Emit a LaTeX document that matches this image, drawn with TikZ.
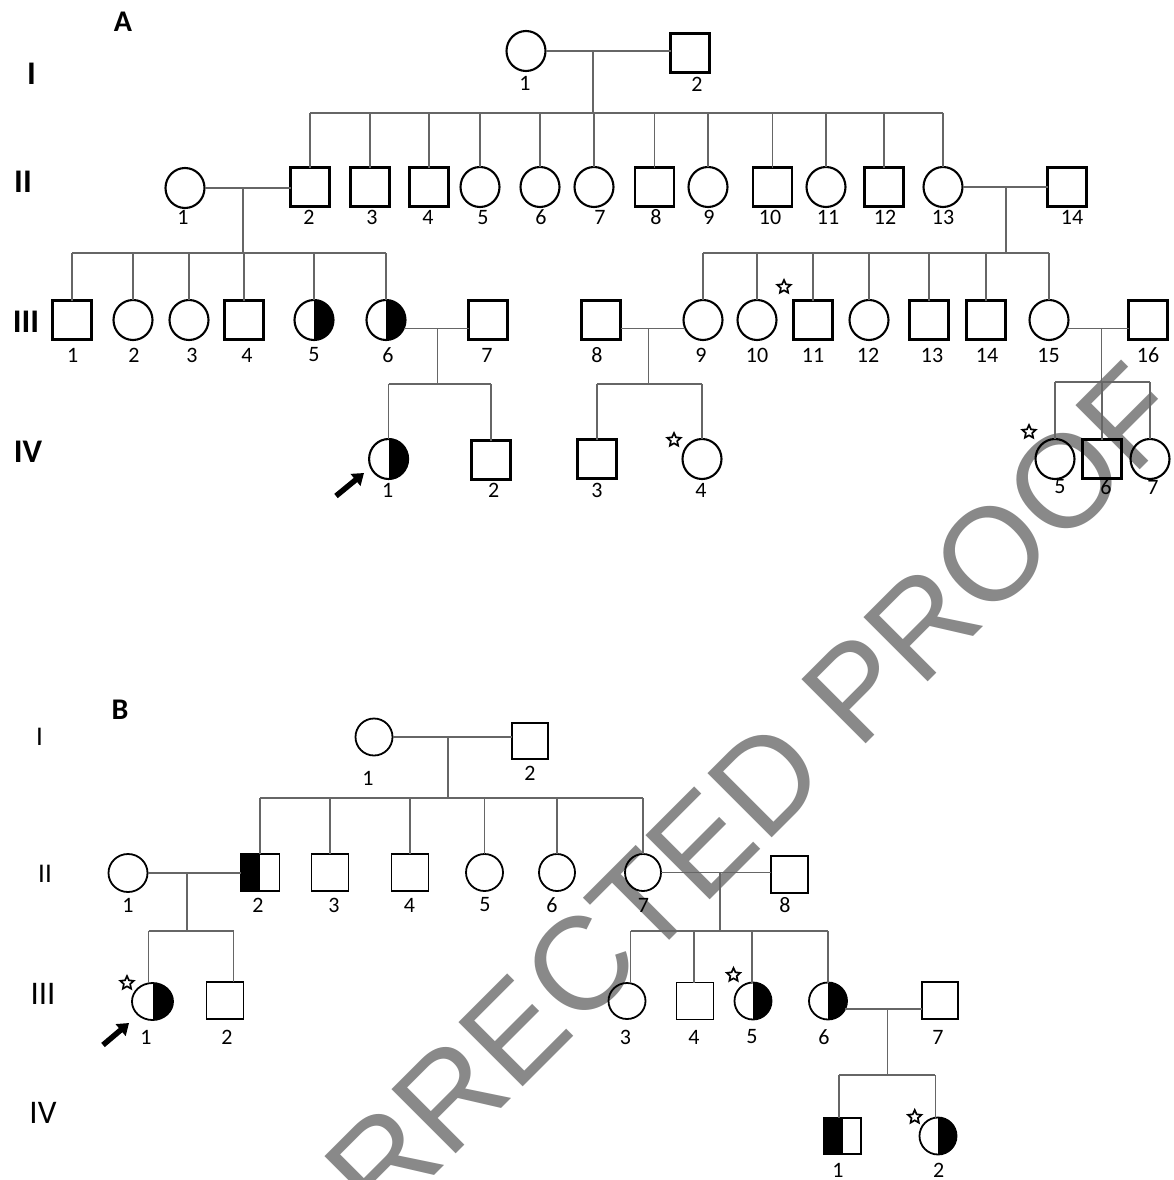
\documentclass[tikz,border=0pt]{standalone}
\usepackage{fontspec}
\setmainfont{Carlito}
\newfontfamily\wmfont{Liberation Sans}
\usetikzlibrary{shapes.geometric,arrows.meta,calc}
\definecolor{wmgray}{HTML}{898989}
\definecolor{lngray}{HTML}{666666}
\tikzset{
  fem/.style={ellipse, draw=black, line width=2.1pt, minimum width=39pt, minimum height=40pt, inner sep=0pt, outer sep=0pt},
  mal/.style={rectangle, draw=black, line width=2.1pt, minimum width=39pt, minimum height=39pt, inner sep=0pt, outer sep=0pt},
  fB/.style={fem, line width=1.8pt, minimum width=37pt, minimum height=37pt},
  mB/.style={mal, line width=1.8pt, minimum width=37pt, minimum height=37pt},
  halfR/.style={path picture={\fill[black] (path picture bounding box.south) rectangle (path picture bounding box.north east);}},
  halfL/.style={path picture={\fill[black] (path picture bounding box.south west) rectangle (path picture bounding box.north);}},
  con/.style={draw=lngray, line width=1.3pt},
  num/.style={font=\fontsize{22}{22}\selectfont, inner sep=0pt},
  genA/.style={font=\bfseries\fontsize{33}{33}\selectfont, inner sep=0pt},
  genB/.style={font=\fontsize{27}{27}\selectfont, inner sep=0pt},
  genBb/.style={font=\fontsize{33}{33}\selectfont, inner sep=0pt},
  panel/.style={font=\bfseries\fontsize{30}{30}\selectfont, inner sep=0pt},
  pstar/.style={star, star points=5, star point ratio=2.1, draw=black, line width=1.7pt, minimum size=14pt, inner sep=0pt},
  parrow/.style={draw=black, line width=5.5pt, -{Triangle[width=15pt,length=11pt]}},
  wmark/.style={font=\wmfont\fontsize{132}{132}\selectfont, text=wmgray, rotate=45, anchor=base west, inner sep=0pt}
}
\begin{document}
\begin{tikzpicture}[x=1pt,y=-1pt]
\useasboundingbox (0,0) rectangle (1173,1180);
\fill[white] (0,0) rectangle (1173,1180);

% watermark
\node[wmark] (wm) at (241,1369) {CORRECTED PROOF};

% ================= Panel A =================
\node[panel] (pA) at (123,22) {A};
\node[genA] (gA1) at (31.5,74) {I};
\node[genA] (gA2) at (23,182) {II};
\node[genA] (gA3) at (26,322) {III};
\node[genA] (gA4) at (28,452) {IV};

% generation I
\node[fem] (A1-1) at (526,51) {};
\node[mal] (A1-2) at (690,53) {};
\node[num] (lA1-1) at (525,83) {1};
\node[num] (lA1-2) at (697,84) {2};

% generation II
\node[fem] (A2-1) at (185,188) {};
\node[mal] (A2-2) at (310,187) {};
\node[mal] (A2-3) at (370,187) {};
\node[mal] (A2-4) at (429,187) {};
\node[fem] (A2-5) at (480,187) {};
\node[fem] (A2-6) at (540,187) {};
\node[fem] (A2-7) at (594,187) {};
\node[mal] (A2-8) at (654.5,187) {};
\node[fem] (A2-9) at (708,187) {};
\node[mal] (A2-10) at (772.5,187) {};
\node[fem] (A2-11) at (826,187) {};
\node[mal] (A2-12) at (884,187) {};
\node[fem] (A2-13) at (943,187) {};
\node[mal] (A2-14) at (1067,187) {};
\foreach \k/\x in {1/183,2/309,3/372,4/428,5/483,6/541,7/600,8/656,9/709,10/770,11/828,12/885,13/943,14/1072}
  \node[num] (lA2-\k) at (\x,217.5) {\k};

% generation III
\node[mal] (A3-1) at (72,320) {};
\node[fem] (A3-2) at (133,320) {};
\node[fem] (A3-3) at (189,320) {};
\node[mal] (A3-4) at (244,320) {};
\node[fem,halfR] (A3-5) at (314,320) {};
\node[fem,halfR] (A3-6) at (386,320) {};
\node[mal] (A3-7) at (488,320) {};
\node[mal] (A3-8) at (601,320) {};
\node[fem] (A3-9) at (703,320) {};
\node[fem] (A3-10) at (757,320) {};
\node[mal] (A3-11) at (813,320) {};
\node[fem] (A3-12) at (869,320) {};
\node[mal] (A3-13) at (929,320) {};
\node[mal] (A3-14) at (986,320) {};
\node[fem] (A3-15) at (1049,320) {};
\node[mal] (A3-16) at (1148,320) {};
\foreach \k/\x in {1/72.7,2/134,3/192,4/247,5/314,6/388,7/487,8/597,9/701,10/757,11/813,12/868,13/932,14/987,15/1048.6,16/1148}
  \node[num] (lA3-\k) at (\x,355) {\k};
\node[pstar] (sA3-11) at (784,287) {};

% generation IV
\node[fem,halfR] (A4-1) at (388.6,459) {};
\node[mal] (A4-2) at (491,460) {};
\node[mal] (A4-3) at (597,459) {};
\node[fem] (A4-4) at (702,459) {};
\node[fem] (A4-5) at (1055,459) {};
\node[mal] (A4-6) at (1102,459) {};
\node[fem] (A4-7) at (1150,459) {};
\node[num] (lA4-1) at (387.7,490) {1};
\node[num] (lA4-2) at (493.7,490) {2};
\node[num] (lA4-3) at (597,490) {3};
\node[num] (lA4-4) at (701,490) {4};
\node[num] (lA4-5) at (1060,487) {5};
\node[num] (lA4-6) at (1106,487) {6};
\node[num] (lA4-7) at (1153,487) {7};
\node[pstar] (sA4-4) at (674,440) {};
\node[pstar] (sA4-5) at (1029,432) {};

% proband arrow A
\coordinate (arA0) at (336,496);
\coordinate (arA1) at (364,473);
\draw[parrow] (arA0) -- (arA1);

% connectors A
\coordinate (A1m) at (593,51);
\coordinate (A1s) at (593,113);
\draw[con] (A1-1.east) -- (A1-1.east -| A1-2.west);
\draw[con] (A1m) -- (A1s);
\draw[con] (A1s -| A2-2.north) -- (A1s -| A2-13.north);
\foreach \k in {2,...,13} \draw[con] (A1s -| A2-\k.north) -- (A2-\k.north);

\coordinate (A2m1) at (243,188);
\coordinate (A2s1) at (243,253);
\draw[con] (A2-1.east) -- (A2-1.east -| A2-2.west);
\draw[con] (A2m1) -- (A2s1);
\draw[con] (A2s1 -| A3-1.north) -- (A2s1 -| A3-6.north);
\foreach \k in {1,...,6} \draw[con] (A2s1 -| A3-\k.north) -- (A3-\k.north);

\coordinate (A2m13) at (1006,187);
\coordinate (A2s13) at (1006,253);
\draw[con] (A2-13.east) -- (A2-13.east -| A2-14.west);
\draw[con] (A2m13) -- (A2s13);
\draw[con] (A2s13 -| A3-9.north) -- (A2s13 -| A3-15.north);
\foreach \k in {9,...,15} \draw[con] (A2s13 -| A3-\k.north) -- (A3-\k.north);

\coordinate (A3m6) at (437.5,328.5);
\coordinate (A3s6) at (437.5,384);
\draw[con] (A3-6.-25) -- (A3-6.-25 -| A3-7.west);
\draw[con] (A3m6) -- (A3s6);
\draw[con] (A3s6 -| A4-1.north) -- (A3s6 -| A4-2.north);
\foreach \k in {1,2} \draw[con] (A3s6 -| A4-\k.north) -- (A4-\k.north);

\coordinate (A3m8) at (648.5,328.5);
\coordinate (A3s8) at (648.5,384);
\draw[con] (A3-9.205 -| A3-8.east) -- (A3-9.205);
\draw[con] (A3m8) -- (A3s8);
\draw[con] (A3s8 -| A4-3.north) -- (A3s8 -| A4-4.north);
\foreach \k in {3,4} \draw[con] (A3s8 -| A4-\k.north) -- (A4-\k.north);

\coordinate (A3m15) at (1101.5,328.5);
\coordinate (A3s15) at (1101.5,382);
\draw[con] (A3-15.-25) -- (A3-15.-25 -| A3-16.west);
\draw[con] (A3m15) -- (A3s15);
\draw[con] (A3s15 -| A4-5.north) -- (A3s15 -| A4-7.north);
\foreach \k in {5,6,7} \draw[con] (A3s15 -| A4-\k.north) -- (A4-\k.north);

% ================= Panel B =================
\node[panel] (pB) at (120,710) {B};
\node[genB] (gB1) at (39.5,737) {I};
\node[genB] (gB2) at (45,873.5) {II};
\node[genBb] (gB3) at (43,994) {III};
\node[genBb] (gB4) at (43,1113) {IV};

% generation I
\node[fB] (B1-1) at (374,737) {};
\node[mB, minimum width=36pt, minimum height=36pt] (B1-2) at (530,741) {};
\node[num] (lB1-1) at (368,778) {1};
\node[num] (lB1-2) at (530,773) {2};

% generation II
\node[fB, minimum width=39pt, minimum height=38pt] (B2-1) at (128,873) {};
\node[mB,halfL, minimum width=39pt] (B2-2) at (260,872.5) {};
\node[mB] (B2-3) at (330,872.5) {};
\node[mB] (B2-4) at (410,872.5) {};
\node[fB] (B2-5) at (484.5,872.5) {};
\node[fB, minimum width=36pt] (B2-6) at (557,872.5) {};
\node[fB, minimum width=36pt] (B2-7) at (643,872.5) {};
\node[mB] (B2-8) at (789.5,874.5) {};
\foreach \k/\x in {1/128,2/258,3/334,4/409.5,5/485,6/552,7/643.4,8/785}
  \node[num] (lB2-\k) at (\x,905) {\k};

% generation III
\node[fB,halfR, minimum width=41pt] (B3-1) at (152.5,1001.5) {};
\node[mB] (B3-2) at (225,1000.5) {};
\node[fB, minimum width=37pt, minimum height=36pt] (B3-3) at (627,1001) {};
\node[mB] (B3-4) at (695,1001) {};
\node[fB,halfR] (B3-5) at (753,1001) {};
\node[fB,halfR, minimum width=38pt] (B3-6) at (828,1001) {};
\node[mB, minimum width=36pt] (B3-7) at (940,1000.5) {};
\foreach \k/\x in {1/146,2/227,3/625.5,4/694,5/752,6/824,7/938}
  \node[num] (lB3-\k) at (\x,1037) {\k};
\node[pstar] (sB3-1) at (127,983) {};
\node[pstar] (sB3-5) at (733.5,975) {};

% generation IV
\node[mB,halfL, minimum height=36pt] (B4-1) at (842.6,1136) {};
\node[fB,halfR] (B4-2) at (938,1136) {};
\node[num] (lB4-1) at (838,1170) {1};
\node[num] (lB4-2) at (938.6,1170) {2};
\node[pstar] (sB4-2) at (914.7,1117) {};

% proband arrow B
\coordinate (arB0) at (103,1045);
\coordinate (arB1) at (129,1023);
\draw[parrow] (arB0) -- (arB1);

% connectors B
\coordinate (B1m) at (448,737);
\coordinate (B1s) at (448,798);
\draw[con] (B1-1.east) -- (B1-1.east -| B1-2.west);
\draw[con] (B1m) -- (B1s);
\draw[con] (B1s -| B2-2.north) -- (B1s -| B2-7.north);
\foreach \k in {2,...,7} \draw[con] (B1s -| B2-\k.north) -- (B2-\k.north);

\coordinate (B2m1) at (187,873);
\coordinate (B2s1) at (187,931);
\coordinate (B3d1) at (148.5,931);
\coordinate (B3d2) at (233.5,931);
\draw[con] (B2-1.east) -- (B2-1.east -| B2-2.west);
\draw[con] (B2m1) -- (B2s1);
\draw[con] (B3d1) -- (B3d2);
\draw[con] (B3d1) -- (B3d1 |- B3-1.north);
\draw[con] (B3d2) -- (B3d2 |- B3-2.north);

\coordinate (B2m7) at (720,873);
\coordinate (B2s7) at (720,931);
\coordinate (B3d3) at (630.6,931);
\coordinate (B3d4) at (694,931);
\coordinate (B3d5) at (752,931);
\coordinate (B3d6) at (828,931);
\draw[con] (B2-7.east) -- (B2-7.east -| B2-8.west);
\draw[con] (B2m7) -- (B2s7);
\draw[con] (B3d3) -- (B3d6);
\foreach \k in {3,...,6} \draw[con] (B3d\k) -- (B3d\k |- B3-\k.north);

\coordinate (B3m6) at (887.7,1008.8);
\coordinate (B3s6) at (887.7,1075);
\coordinate (B4d1) at (839,1075);
\coordinate (B4d2) at (935.4,1075);
\draw[con] (B3-6.-25) -- (B3-6.-25 -| B3-7.west);
\draw[con] (B3m6) -- (B3s6);
\draw[con] (B4d1) -- (B4d2);
\foreach \k in {1,2} \draw[con] (B4d\k) -- (B4d\k |- B4-\k.north);
\end{tikzpicture}
\end{document}
